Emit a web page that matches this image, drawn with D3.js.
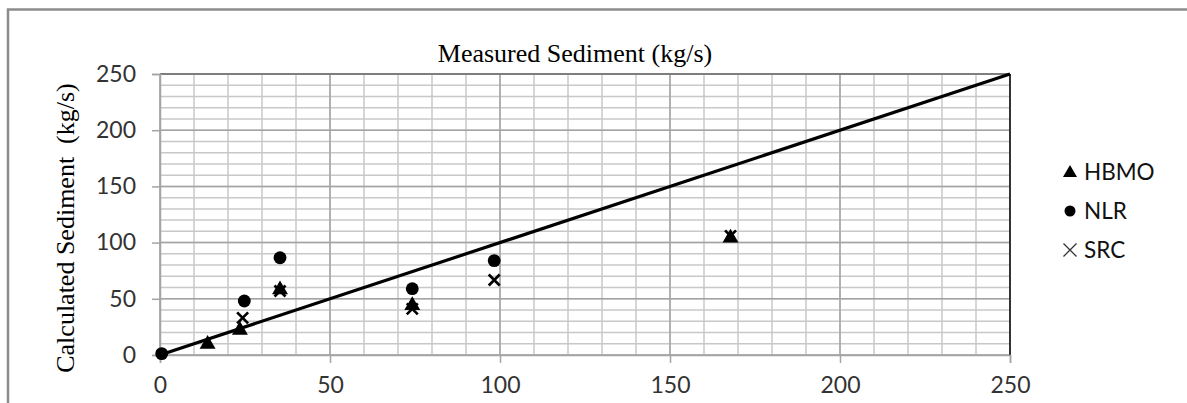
<!DOCTYPE html>
<html>
<head>
	<meta charset="utf-8">
	<title>Measured vs calculated sediment</title>
	<script type="text/javascript" src="https://cdn.jsdelivr.net/npm/d3@7/dist/d3.min.js"></script>
	<style>
		body { margin: 0; background: #fff; }
		svg { display: block; }
	</style>
</head>
<body>
	<script type="text/javascript">
		// values (kg/s)
		var hbmoX = [14, 23.5, 35.3, 74.2, 167.8];
		var hbmoY = [10.5, 23, 59, 45, 105];
		var nlrX = [0.5, 24.8, 35.3, 74.2, 98.3];
		var nlrY = [1.2, 48, 86.5, 59, 84];
		var srcX = [24.3, 35.3, 74.2, 98.3, 167.8];
		var srcY = [33, 57, 41, 66.7, 106];
		var lineX = [0, 250];
		var lineY = [0, 250];
		var ticks = [0, 50, 100, 150, 200, 250];
		var minorTicks = d3.range(0, 251, 10);
		var seriesNames = ["HBMO", "NLR", "SRC"];

		var width = 1187, height = 403;
		var plotLeft = 160, plotRight = 1010, plotTop = 74, plotBottom = 355;

		var svg = d3.select("body").append("svg")
			.attr("width", width)
			.attr("height", height);

		// outer chart frame
		svg.append("rect")
			.attr("x", 8).attr("y", 9.5)
			.attr("width", 1300).attr("height", 600)
			.attr("fill", "none")
			.attr("stroke", "#8c8c8c")
			.attr("stroke-width", 2.5);

		var x = d3.scaleLinear().domain([0, 250]).range([plotLeft, plotRight]);
		var y = d3.scaleLinear().domain([0, 250]).range([plotBottom, plotTop]);

		// minor grid
		var grid = svg.append("g");
		grid.selectAll("line.vmin").data(minorTicks).enter().append("line")
			.attr("x1", function(d) { return x(d); }).attr("x2", function(d) { return x(d); })
			.attr("y1", plotTop).attr("y2", plotBottom)
			.attr("stroke", "#c8c8c8").attr("stroke-width", 1.5);
		grid.selectAll("line.hmin").data(minorTicks).enter().append("line")
			.attr("y1", function(d) { return y(d); }).attr("y2", function(d) { return y(d); })
			.attr("x1", plotLeft).attr("x2", plotRight)
			.attr("stroke", "#c8c8c8").attr("stroke-width", 1.5);
		// major grid
		grid.selectAll("line.vmaj").data(ticks).enter().append("line")
			.attr("x1", function(d) { return x(d); }).attr("x2", function(d) { return x(d); })
			.attr("y1", plotTop).attr("y2", plotBottom)
			.attr("stroke", "#a4a4a4").attr("stroke-width", 1.5);
		grid.selectAll("line.hmaj").data(ticks).enter().append("line")
			.attr("y1", function(d) { return y(d); }).attr("y2", function(d) { return y(d); })
			.attr("x1", plotLeft).attr("x2", plotRight)
			.attr("stroke", "#a4a4a4").attr("stroke-width", 1.5);

		// plot border: top and right are darker
		svg.append("line").attr("x1", plotLeft).attr("x2", plotRight).attr("y1", plotTop).attr("y2", plotTop)
			.attr("stroke", "#6e6e6e").attr("stroke-width", 1.6);
		svg.append("line").attr("x1", plotRight).attr("x2", plotRight).attr("y1", plotTop).attr("y2", plotBottom)
			.attr("stroke", "#262626").attr("stroke-width", 1.8);

		// axes
		var yAxis = d3.axisLeft(y).tickValues(ticks).tickSize(8).tickPadding(16);
		var xAxis = d3.axisBottom(x).tickValues(ticks).tickSize(8).tickPadding(14);
		var gy = svg.append("g").attr("transform", "translate(" + plotLeft + ",0)").call(yAxis);
		var gx = svg.append("g").attr("transform", "translate(0," + plotBottom + ")").call(xAxis);
		[gx, gy].forEach(function(g) {
			g.select(".domain").attr("stroke", "#a4a4a4").attr("stroke-width", 1.5);
			g.selectAll(".tick line").attr("stroke", "#a4a4a4").attr("stroke-width", 1.5);
			g.selectAll(".tick text")
				.attr("fill", "#333")
				.style("font-family", "Lato, 'Open Sans', sans-serif")
				.style("font-size", "23px");
		});

		// 1:1 line
		svg.append("path")
			.datum(lineX.map(function(d, i) { return [d, lineY[i]]; }))
			.attr("d", d3.line().x(function(d) { return x(d[0]); }).y(function(d) { return y(d[1]); }))
			.attr("fill", "none")
			.attr("stroke", "#000")
			.attr("stroke-width", 3.2);

		var tri = d3.symbol().type(d3.symbolTriangle).size(110);
		var dot = d3.symbol().type(d3.symbolCircle).size(130);

		function zip(xs, ys) { return xs.map(function(d, i) { return [d, ys[i]]; }); }

		svg.append("g").selectAll("path").data(zip(hbmoX, hbmoY)).enter().append("path")
			.attr("d", tri)
			.attr("transform", function(d) { return "translate(" + x(d[0]) + "," + (y(d[1]) + 1) + ")"; })
			.attr("fill", "#000");
		svg.append("g").selectAll("path").data(zip(nlrX, nlrY)).enter().append("path")
			.attr("d", dot)
			.attr("transform", function(d) { return "translate(" + x(d[0]) + "," + y(d[1]) + ")"; })
			.attr("fill", "#000");
		svg.append("g").selectAll("path").data(zip(srcX, srcY)).enter().append("path")
			.attr("d", "M-5.5,-5.5L5.5,5.5M-5.5,5.5L5.5,-5.5")
			.attr("transform", function(d) { return "translate(" + x(d[0]) + "," + y(d[1]) + ")"; })
			.attr("stroke", "#000")
			.attr("stroke-width", 2.7)
			.attr("fill", "none");

		// titles
		svg.append("text")
			.attr("x", 575).attr("y", 62)
			.attr("text-anchor", "middle")
			.style("font-family", "'Liberation Serif', 'Times New Roman', serif")
			.style("font-size", "26px")
			.attr("fill", "#000")
			.text("Measured Sediment (kg/s)");
		svg.append("text")
			.attr("transform", "translate(74,228) rotate(-90)")
			.attr("text-anchor", "middle")
			.style("font-family", "'Liberation Serif', 'Times New Roman', serif")
			.style("font-size", "26px")
			.style("white-space", "pre")
			.attr("fill", "#000")
			.text("Calculated Sediment  (kg/s)");

		// legend
		var legendY = [172, 211, 250];
		var legend = svg.append("g").selectAll("g").data(seriesNames).enter().append("g")
			.attr("transform", function(d, i) { return "translate(1070," + legendY[i] + ")"; });
		legend.each(function(d, i) {
			var g = d3.select(this);
			if (i === 0) {
				g.append("path").attr("d", d3.symbol().type(d3.symbolTriangle).size(85)).attr("fill", "#000").attr("transform", "translate(0,1)");
			} else if (i === 1) {
				g.append("path").attr("d", d3.symbol().type(d3.symbolCircle).size(95)).attr("fill", "#000");
			} else {
				g.append("path").attr("d", "M-6.5,-6.5L6.5,6.5M-6.5,6.5L6.5,-6.5")
					.attr("stroke", "#333").attr("stroke-width", 1.3).attr("fill", "none");
			}
			g.append("text")
				.attr("x", 14).attr("y", 8)
				.style("font-family", "Lato, 'Open Sans', sans-serif")
				.style("font-size", "22.5px")
				.attr("fill", "#111")
				.text(d);
		});
	</script>
</body>
</html>
